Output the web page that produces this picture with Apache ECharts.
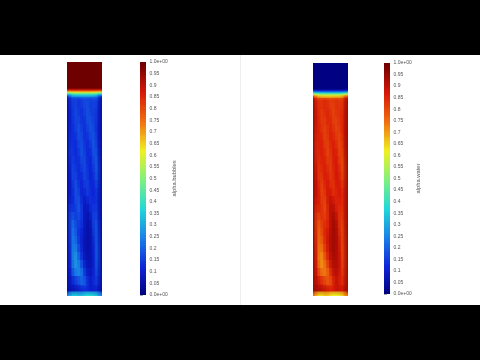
<!DOCTYPE html>
<html><head><meta charset="utf-8">
<script src="https://cdn.jsdelivr.net/npm/echarts@6/dist/echarts.min.js"></script>
<style>html,body{margin:0;padding:0;background:#000}#c{width:480px;height:360px;filter:blur(0.5px)}</style>
</head><body><div id="c"></div>
<script>
// Depth of each cell row below the top of the column
const rowDepths=[0,27,28,29,30,31,32,33,34.5,36,42,50,58,66,74,82,90,98,106,114,122,130,138,146,154,162,170,178,186,194,202,210,218,226,231,234];
const tickLabels=['0.0e+00','0.05','0.1','0.15','0.2','0.25','0.3','0.35','0.4','0.45','0.5','0.55','0.6','0.65','0.7','0.75','0.8','0.85','0.9','0.95','1.0e+00'];
const alphaBubbles=[
[100,100,100,100,100,100,100,100,100,100,100,100],
[92,93,93,93,93,93,93,93,93,93,93,92],
[83,85,85,85,85,85,85,85,85,85,85,83],
[72,74,75,75,75,75,75,75,75,75,74,72],
[58,62,63,63,64,64,64,64,63,63,62,58],
[46,50,52,52,52,52,52,52,52,52,50,46],
[34,40,43,43,43,43,43,43,43,43,40,34],
[22,31,34,35,35,35,35,35,35,34,31,22],
[12,24,27,27,27,28,28,27,27,27,24,12],
[7,15,17,16,15,17,18,17,16,18,16,7],
[6,14,16,16,14,16,18,18,15,17,15,6],
[6,13,16,18,15,14,17,19,16,16,14,6],
[6,13,15,18,17,14,15,19,18,16,14,6],
[6,14,14,17,19,15,14,17,19,17,13,6],
[6,15,13,15,19,16,13,15,18,19,14,6],
[6,16,13,14,18,18,14,13,16,20,15,6],
[6,16,14,13,16,19,15,12,14,20,17,6],
[6,15,16,13,14,18,17,12,13,18,19,6],
[6,13,18,14,13,16,18,13,12,16,20,6],
[6,12,18,16,12,14,18,14,11,15,19,6],
[6,11,16,19,13,12,16,16,12,13,17,6],
[6,12,14,20,15,11,13,16,13,12,15,6],
[6,14,13,19,18,11,9,12,15,13,15,6],
[6,17,14,17,20,12,8,9,14,16,15,6],
[6,19,19,15,18,13,7,7,11,18,16,6],
[6,19,23,16,15,13,7,6,9,18,18,6],
[6,18,25,17,13,11,7,6,8,16,19,6],
[6,17,26,20,14,10,7,6,8,14,20,6],
[6,16,28,23,16,11,7,6,8,13,21,6],
[6,15,29,27,19,13,8,7,8,12,21,6],
[6,14,27,28,24,17,10,8,8,12,20,6],
[6,12,21,24,26,22,14,9,9,13,18,6],
[6,9,12,15,18,21,19,12,10,14,15,6],
[6,7,8,9,10,12,13,12,10,11,11,6],
[25,32,36,35,33,34,37,38,38,36,33,25]
];
const alphaWater=[
[1,1,1,1,1,1,1,1,1,1,1,1],
[8,7,7,7,7,7,7,7,7,7,7,8],
[17,15,15,15,15,15,15,15,15,15,15,17],
[28,26,25,25,25,25,25,25,25,25,26,28],
[42,38,37,37,36,36,36,36,37,37,38,42],
[54,50,48,48,48,48,48,48,48,48,50,54],
[66,60,57,57,57,57,57,57,57,57,60,66],
[78,69,66,65,65,65,65,65,65,66,69,78],
[88,76,73,73,73,72,72,73,73,73,76,88],
[93,85,83,84,85,83,82,83,84,82,84,93],
[94,86,84,84,86,84,82,82,85,83,85,94],
[94,87,84,82,85,86,83,81,84,84,86,94],
[94,87,85,82,83,86,85,81,82,84,86,94],
[94,86,86,83,81,85,86,83,81,83,87,94],
[94,85,87,85,81,84,87,85,82,81,86,94],
[94,84,87,86,82,82,86,87,84,80,85,94],
[94,84,86,87,84,81,85,88,86,80,83,94],
[94,85,84,87,86,82,83,88,87,82,81,94],
[94,87,82,86,87,84,82,87,88,84,80,94],
[94,88,82,84,88,86,82,86,89,85,81,94],
[94,89,84,81,87,88,84,84,88,87,83,94],
[94,88,86,80,85,89,87,84,87,88,85,94],
[94,86,87,81,82,89,91,88,85,87,85,94],
[94,83,86,83,80,88,92,91,86,84,85,94],
[94,81,81,85,82,87,93,93,89,82,84,94],
[94,81,77,84,85,87,93,94,91,82,82,94],
[94,82,75,83,87,89,93,94,92,84,81,94],
[94,83,74,80,86,90,93,94,92,86,80,94],
[94,84,72,77,84,89,93,94,92,87,79,94],
[94,85,71,73,81,87,92,93,92,88,79,94],
[94,86,73,72,76,83,90,92,92,88,80,94],
[94,88,79,76,74,78,86,91,91,87,82,94],
[94,91,88,85,82,79,81,88,90,86,85,94],
[94,93,92,91,90,88,87,88,90,89,89,94],
[75,68,64,65,67,66,63,62,62,64,67,75]
];
const jet=['#00007a','#0e24d8','#1a80e8','#20d8d8','#80f080','#f0f020','#f07010','#d81808','#6e0000'];

function cells(rows){
  const h=i=>rowDepths[i+1]-rowDepths[i];
  const out=[];
  rows.forEach((r,i)=>r.forEach((v,j)=>{
    const up=i>0?Math.min(h(i),h(i-1))/2:0;
    const down=i<rows.length-1?Math.min(h(i),h(i+1))/2:0;
    out.push([j,rowDepths[i],rowDepths[i+1],v,up,down]);
  }));
  return out;
}
function renderCell(params,api){
  const a=api.coord([api.value(0),api.value(1)]);
  const b=api.coord([api.value(0)+1,api.value(2)]);
  const x=Math.floor(a[0]),y=Math.floor(a[1]);
  return {type:'rect',shape:{x:x,y:y,width:Math.ceil(b[0])-x,height:Math.ceil(b[1])-y},style:{fill:api.visual('color')}};
}
// second, translucent pass: each cell spreads half a cell into its neighbours, softening the mesh
function renderSoft(params,api){
  const a=api.coord([api.value(0)-0.5,api.value(1)-api.value(4)]);
  const b=api.coord([api.value(0)+1.5,api.value(2)+api.value(5)]);
  return {type:'rect',shape:{x:a[0],y:a[1],width:b[0]-a[0],height:b[1]-a[1]},style:{fill:api.visual('color'),opacity:0.45}};
}
// colour bar: one thin slice per level through the same visual map
const barLevels=Array.from({length:201},(_,i)=>i/2);
function renderBar(params,api){
  const v=api.value(0)/100;
  const a=api.coord([0,v+0.0025]),b=api.coord([1,v-0.0025]);
  const y=Math.floor(a[1]);
  return {type:'rect',shape:{x:a[0],y:y,width:b[0]-a[0],height:Math.ceil(b[1])-y+1},style:{fill:api.visual('color')}};
}
const fieldGrid=(l,t,h)=>({left:l,top:t,width:35,height:h});
const barGrid=(l,t,h)=>({left:l,top:t,width:6,height:h});
const hiddenX=i=>({type:'value',gridIndex:i,min:0,max:12,show:false});
const hiddenY=i=>({type:'value',gridIndex:i,min:0,max:234,inverse:true,show:false});
const barX=i=>({type:'value',gridIndex:i,min:0,max:1,show:false});
const barY=(i,name)=>({type:'value',gridIndex:i,min:0,max:1,interval:0.05,position:'right',
  name:name,nameLocation:'middle',nameGap:18.5,nameRotate:90,
  nameTextStyle:{fontSize:5.8,color:'#555',fontFamily:'Liberation Sans'},
  axisLine:{show:false},splitLine:{show:false},
  axisTick:{show:true,length:3,lineStyle:{color:'#666',width:0.6}},
  axisLabel:{show:true,margin:3.5,fontSize:5,color:'#555',fontFamily:'Liberation Sans',hideOverlap:false,showMinLabel:true,showMaxLabel:true,
    formatter:v=>tickLabels[Math.round(v/0.05)]}});
const fieldSeries=(rows,ax,render,clip)=>({type:'custom',xAxisIndex:ax,yAxisIndex:ax,renderItem:render,clip:clip,silent:true,
  encode:{x:[0],y:[1,2]},data:cells(rows)});
const barSeries=ax=>({type:'custom',xAxisIndex:ax,yAxisIndex:ax,renderItem:renderBar,silent:true,clip:true,
  dimensions:['level'],encode:{y:0},data:barLevels.map(v=>[v])});

const chart=echarts.init(document.getElementById('c'),null,{renderer:'canvas'});
chart.setOption({
  animation:false,
  backgroundColor:'#000',
  graphic:[
    {type:'rect',z:-10,silent:true,shape:{x:0,y:55,width:480,height:250},style:{fill:'#fff'}},
    {type:'rect',z:-9,silent:true,shape:{x:240,y:55,width:1,height:250},style:{fill:'#eeeeee'}}
  ],
  grid:[fieldGrid(67,62,234),barGrid(140,62,233),fieldGrid(313,63,233),barGrid(384,63,231)],
  xAxis:[hiddenX(0),barX(1),hiddenX(2),barX(3)],
  yAxis:[hiddenY(0),barY(1,'alpha.bubbles'),hiddenY(2),barY(3,'alpha.water')],
  visualMap:[
    {type:'continuous',show:false,seriesIndex:[0,1,4,5],dimension:3,min:0,max:100,inRange:{color:jet}},
    {type:'continuous',show:false,seriesIndex:[2,3],dimension:0,min:0,max:100,inRange:{color:jet}}
  ],
  series:[
    fieldSeries(alphaBubbles,0,renderCell,false),
    fieldSeries(alphaBubbles,0,renderSoft,true),
    barSeries(1),
    barSeries(3),
    fieldSeries(alphaWater,2,renderCell,false),
    fieldSeries(alphaWater,2,renderSoft,true)
  ]
});
</script></body></html>
